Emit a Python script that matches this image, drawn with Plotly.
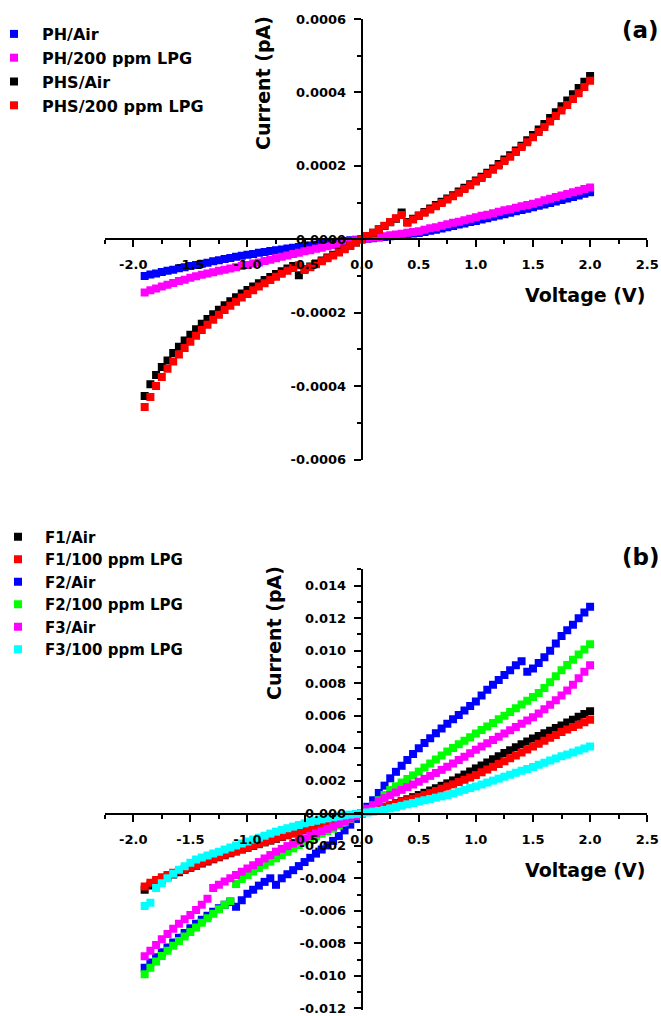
import plotly.graph_objects as go

# Voltage sweep (V)
VOLTAGE = [-1.90, -1.85, -1.80, -1.75, -1.70, -1.65, -1.60, -1.55, -1.50, -1.45,
           -1.40, -1.35, -1.30, -1.25, -1.20, -1.15, -1.10, -1.05, -1.00, -0.95,
           -0.90, -0.85, -0.80, -0.75, -0.70, -0.65, -0.60, -0.55, -0.50, -0.45,
           -0.40, -0.35, -0.30, -0.25, -0.20, -0.15, -0.10, -0.05, 0.00, 0.05,
           0.10, 0.15, 0.20, 0.25, 0.30, 0.35, 0.40, 0.45, 0.50, 0.55,
           0.60, 0.65, 0.70, 0.75, 0.80, 0.85, 0.90, 0.95, 1.00, 1.05,
           1.10, 1.15, 1.20, 1.25, 1.30, 1.35, 1.40, 1.45, 1.50, 1.55,
           1.60, 1.65, 1.70, 1.75, 1.80, 1.85, 1.90, 1.95, 2.00]

# ---- Panel (a): currents in units of 1e-4 pA ----
PH_AIR_E4 = [-1.00, -0.96, -0.93, -0.89, -0.86, -0.83, -0.79, -0.76, -0.73, -0.70,
             -0.67, -0.64, -0.60, -0.57, -0.54, -0.51, -0.48, -0.45, -0.42, -0.40,
             -0.37, -0.35, -0.32, -0.30, -0.28, -0.25, -0.23, -0.21, -0.19, -0.17,
             -0.15, -0.13, -0.11, -0.09, -0.07, -0.05, -0.03, -0.015, 0.0, 0.015,
             0.03, 0.045, 0.06, 0.08, 0.10, 0.12, 0.14, 0.155, 0.17, 0.20,
             0.23, 0.26, 0.29, 0.33, 0.36, 0.40, 0.43, 0.47, 0.50, 0.54,
             0.57, 0.61, 0.65, 0.68, 0.72, 0.76, 0.80, 0.83, 0.87, 0.91,
             0.95, 0.99, 1.03, 1.07, 1.11, 1.15, 1.19, 1.24, 1.28]
PH_LPG_E4 = [-1.45, -1.39, -1.34, -1.29, -1.24, -1.19, -1.14, -1.10, -1.05, -1.01,
             -0.97, -0.93, -0.90, -0.86, -0.83, -0.80, -0.76, -0.73, -0.70, -0.66,
             -0.63, -0.59, -0.56, -0.52, -0.48, -0.44, -0.40, -0.37, -0.33, -0.30,
             -0.26, -0.23, -0.19, -0.16, -0.13, -0.09, -0.06, -0.03, 0.0, 0.02,
             0.04, 0.06, 0.08, 0.11, 0.13, 0.15, 0.18, 0.20, 0.22, 0.26,
             0.30, 0.33, 0.37, 0.41, 0.45, 0.48, 0.52, 0.56, 0.60, 0.64,
             0.67, 0.71, 0.75, 0.79, 0.82, 0.86, 0.90, 0.93, 0.97, 1.01,
             1.06, 1.10, 1.15, 1.19, 1.23, 1.28, 1.32, 1.37, 1.41]
PHS_AIR_E4 = [-4.27, -3.95, -3.70, -3.48, -3.30, -3.10, -2.93, -2.76, -2.60, -2.45,
              -2.30, -2.17, -2.04, -1.92, -1.80, -1.69, -1.58, -1.48, -1.38, -1.29,
              -1.20, -1.11, -1.03, -0.95, -0.87, -0.80, -0.73, -0.98, -0.82, -0.74,
              -0.66, -0.58, -0.50, -0.42, -0.34, -0.26, -0.18, -0.09, 0.0, 0.09,
              0.18, 0.27, 0.36, 0.46, 0.56, 0.73, 0.47, 0.56, 0.65, 0.74,
              0.84, 0.93, 1.02, 1.11, 1.20, 1.30, 1.40, 1.50, 1.60, 1.70,
              1.81, 1.93, 2.05, 2.17, 2.29, 2.42, 2.55, 2.70, 2.84, 2.99,
              3.14, 3.30, 3.46, 3.62, 3.78, 3.95, 4.12, 4.29, 4.45]
PHS_LPG_E4 = [-4.57, -4.30, -4.00, -3.75, -3.53, -3.33, -3.14, -2.96, -2.79, -2.63,
              -2.47, -2.33, -2.19, -2.06, -1.93, -1.81, -1.70, -1.59, -1.49, -1.39,
              -1.29, -1.20, -1.11, -1.02, -0.94, -0.86, -0.78, -0.71, -0.84, -0.76,
              -0.68, -0.60, -0.52, -0.44, -0.36, -0.27, -0.18, -0.09, 0.0, 0.09,
              0.18, 0.27, 0.37, 0.47, 0.57, 0.66, 0.45, 0.54, 0.63, 0.72,
              0.81, 0.90, 0.99, 1.08, 1.17, 1.27, 1.37, 1.47, 1.57, 1.67,
              1.78, 1.89, 2.01, 2.13, 2.25, 2.38, 2.51, 2.64, 2.78, 2.92,
              3.06, 3.21, 3.36, 3.51, 3.66, 3.82, 3.98, 4.15, 4.32]

# ---- Panel (b): currents in units of 1e-3 pA ----
F1_AIR_E3 = [-4.70, -4.45, -4.25, -4.07, -3.91, -3.76, -3.62, -3.48, -3.35, -3.22,
             -3.09, -2.96, -2.83, -2.71, -2.58, -2.46, -2.35, -2.23, -2.12, -2.01,
             -1.90, -1.79, -1.68, -1.57, -1.46, -1.35, -1.24, -1.13, -1.02, -0.92,
             -0.82, -0.72, -0.62, -0.52, -0.42, -0.31, -0.21, -0.10, 0.0, 0.10,
             0.20, 0.30, 0.40, 0.50, 0.62, 0.74, 0.86, 0.99, 1.12, 1.26,
             1.40, 1.54, 1.69, 1.84, 2.02, 2.20, 2.38, 2.57, 2.76, 2.94,
             3.13, 3.32, 3.51, 3.70, 3.88, 4.06, 4.24, 4.42, 4.60, 4.76,
             4.92, 5.08, 5.24, 5.40, 5.58, 5.76, 5.94, 6.11, 6.28]
F1_LPG_E3 = [-4.50, -4.28, -4.10, -3.94, -3.80, -3.66, -3.54, -3.42, -3.30, -3.18,
             -3.05, -2.92, -2.79, -2.67, -2.55, -2.43, -2.32, -2.21, -2.10, -1.99,
             -1.88, -1.77, -1.66, -1.55, -1.44, -1.33, -1.22, -1.11, -1.00, -0.90,
             -0.80, -0.70, -0.60, -0.50, -0.40, -0.30, -0.20, -0.10, 0.0, 0.10,
             0.20, 0.30, 0.40, 0.50, 0.60, 0.70, 0.80, 0.90, 1.00, 1.12,
             1.24, 1.37, 1.51, 1.65, 1.78, 1.92, 2.06, 2.20, 2.35, 2.52,
             2.69, 2.86, 3.03, 3.20, 3.38, 3.56, 3.74, 3.92, 4.10, 4.28,
             4.46, 4.64, 4.82, 5.00, 5.15, 5.30, 5.45, 5.60, 5.75]
F2_AIR_E3 = [-9.50, -9.18, -8.85, -8.55, -8.25, -7.95, -7.65, -7.36, -7.07, -6.80,
             -6.55, -6.30, -6.06, -5.84, -5.62, -5.45, -5.75, -5.35, -4.95, -4.70,
             -4.45, -4.22, -4.00, -4.40, -4.00, -3.75, -3.50, -3.25, -3.00, -2.74,
             -2.48, -2.23, -1.98, -1.70, -1.40, -1.05, -0.70, -0.35, 0.0, 0.40,
             0.80, 1.25, 1.70, 2.15, 2.55, 2.92, 3.28, 3.64, 4.00, 4.32,
             4.62, 4.92, 5.22, 5.50, 5.78, 6.05, 6.32, 6.60, 6.88, 7.25,
             7.60, 7.90, 8.20, 8.50, 8.80, 9.10, 9.35, 8.70, 8.90, 9.25,
             9.60, 10.00, 10.45, 10.90, 11.25, 11.60, 12.00, 12.35, 12.70]
F2_LPG_E3 = [-9.90, -9.50, -9.12, -8.78, -8.45, -8.15, -7.86, -7.58, -7.30, -7.02,
             -6.74, -6.46, -6.18, -5.90, -5.62, -5.40, -4.35, -4.05, -3.80, -3.58,
             -3.37, -3.17, -2.97, -2.77, -2.57, -2.37, -2.16, -1.95, -1.74, -1.58,
             -1.42, -1.26, -1.10, -0.95, -0.75, -0.55, -0.36, -0.18, 0.0, 0.25,
             0.45, 0.80, 1.12, 1.43, 1.66, 1.89, 2.11, 2.33, 2.56, 2.81,
             3.06, 3.31, 3.56, 3.80, 4.02, 4.24, 4.46, 4.68, 4.90, 5.12,
             5.34, 5.56, 5.78, 6.00, 6.23, 6.46, 6.69, 6.92, 7.15, 7.40,
             7.70, 8.06, 8.43, 8.80, 9.12, 9.44, 9.76, 10.08, 10.40]
F3_AIR_E3 = [-8.80, -8.45, -8.10, -7.75, -7.42, -7.10, -6.80, -6.52, -6.25, -5.95,
             -5.62, -5.25, -4.60, -4.40, -4.20, -4.00, -3.80, -3.60, -3.40, -3.20,
             -3.00, -2.78, -2.57, -2.36, -2.19, -2.02, -1.86, -1.70, -1.54, -1.39,
             -1.24, -1.10, -0.96, -0.82, -0.66, -0.50, -0.33, -0.17, 0.0, 0.28,
             0.50, 0.72, 0.93, 1.12, 1.28, 1.44, 1.61, 1.77, 1.94, 2.12,
             2.30, 2.48, 2.67, 2.86, 3.06, 3.27, 3.48, 3.69, 3.90, 4.10,
             4.30, 4.50, 4.70, 4.90, 5.10, 5.30, 5.50, 5.70, 5.90, 6.14,
             6.40, 6.67, 6.95, 7.25, 7.55, 7.90, 8.30, 8.70, 9.10]
F3_LPG_E3 = [-5.70, -5.50, -4.60, -4.30, -4.00, -3.72, -3.48, -3.26, -3.05, -2.85,
             -2.72, -2.60, -2.48, -2.36, -2.23, -2.10, -1.98, -1.86, -1.74, -1.62,
             -1.50, -1.38, -1.25, -1.13, -1.02, -0.92, -0.82, -0.72, -0.62, -0.54,
             -0.46, -0.38, -0.31, -0.25, -0.19, -0.13, -0.08, -0.04, 0.0, 0.05,
             0.10, 0.15, 0.21, 0.30, 0.38, 0.46, 0.55, 0.63, 0.72, 0.80,
             0.88, 0.96, 1.04, 1.12, 1.22, 1.33, 1.44, 1.55, 1.65, 1.77,
             1.89, 2.01, 2.13, 2.25, 2.37, 2.49, 2.61, 2.73, 2.85, 2.98,
             3.11, 3.24, 3.37, 3.50, 3.62, 3.74, 3.86, 3.98, 4.10]

SERIES_A = [("PH/Air", PH_AIR_E4, "#0000FF"),
            ("PH/200 ppm LPG", PH_LPG_E4, "#FF00FF"),
            ("PHS/Air", PHS_AIR_E4, "#000000"),
            ("PHS/200 ppm LPG", PHS_LPG_E4, "#FF0000")]
SERIES_B = [("F1/Air", F1_AIR_E3, "#000000"),
            ("F1/100 ppm LPG", F1_LPG_E3, "#FF0000"),
            ("F2/Air", F2_AIR_E3, "#0000FF"),
            ("F2/100 ppm LPG", F2_LPG_E3, "#00FF00"),
            ("F3/Air", F3_AIR_E3, "#FF00FF"),
            ("F3/100 ppm LPG", F3_LPG_E3, "#00FFFF")]

X_TICKS = [-2.0, -1.5, -1.0, -0.5, 0.0, 0.5, 1.0, 1.5, 2.0, 2.5]
X_TICKTEXT = ["-2.0", "-1.5", "-1.0", "-0.5", "0.0", "0.5", "1.0", "1.5", "2.0", "2.5"]
YA_TICKS = [-0.0006, -0.0004, -0.0002, 0.0, 0.0002, 0.0004, 0.0006]
YA_TICKTEXT = ["-0.0006", "-0.0004", "-0.0002", "0.0000", "0.0002", "0.0004", "0.0006"]
YB_TICKS = [-0.012, -0.010, -0.008, -0.006, -0.004, -0.002, 0.0,
            0.002, 0.004, 0.006, 0.008, 0.010, 0.012, 0.014]
YB_TICKTEXT = ["-0.012", "-0.010", "-0.008", "-0.006", "-0.004", "-0.002", "0.000",
               "0.002", "0.004", "0.006", "0.008", "0.010", "0.012", "0.014"]

W, H = 661, 1016
FONT = "DejaVu Sans"

fig = go.Figure()
for name, vals, col in SERIES_A:
    fig.add_trace(go.Scatter(x=VOLTAGE, y=[v * 1e-4 for v in vals], mode="markers", name=name,
                             marker=dict(symbol="square", size=8, color=col, line=dict(width=0)),
                             xaxis="x", yaxis="y", legend="legend", legendgroup=name))
for name, vals, col in SERIES_B:
    fig.add_trace(go.Scatter(x=VOLTAGE, y=[v * 1e-3 for v in vals], mode="markers", name=name,
                             marker=dict(symbol="square", size=8, color=col, line=dict(width=0)),
                             xaxis="x2", yaxis="y2", legend="legend2", legendgroup=name))

xdom = [104.7 / W, 647.2 / W]
ypos = 361.7 / W
tickfont = dict(family=FONT, size=13, color="black", weight="bold")

def xaxis_cfg(pos):
    return dict(domain=xdom, range=[-2.25, 2.5], anchor="free", position=pos,
                showline=True, linecolor="black", linewidth=2,
                ticks="outside", ticklen=7, tickwidth=2, tickcolor="black",
                tickvals=X_TICKS, ticktext=X_TICKTEXT, tickfont=tickfont,
                ticklabelstandoff=6, ticklabeloverflow="allow",
                minor=dict(ticks="outside", ticklen=4, tickwidth=2, tickcolor="black", dtick=0.25,
                           tick0=0, showgrid=False),
                showgrid=False, zeroline=False)

def yaxis_cfg(dom, rng, tv, tt, mdt):
    return dict(domain=dom, range=rng, anchor="free", position=ypos,
                showline=True, linecolor="black", linewidth=2,
                ticks="outside", ticklen=7, tickwidth=2, tickcolor="black",
                tickvals=tv, ticktext=tt, tickfont=tickfont, ticklabelstandoff=5,
                ticklabeloverflow="allow",
                minor=dict(ticks="outside", ticklen=4, tickwidth=2, tickcolor="black", dtick=mdt,
                           tick0=0, showgrid=False),
                showgrid=False, zeroline=False)

fig.update_layout(
    width=W, height=H, margin=dict(l=0, r=0, t=0, b=0, autoexpand=False),
    paper_bgcolor="white", plot_bgcolor="white",
    font=dict(family=FONT, color="black"),
    xaxis=xaxis_cfg(1 - 239.3 / H),
    yaxis=yaxis_cfg([1 - 459.5 / H, 1 - 19 / H], [-0.0006, 0.0006], YA_TICKS, YA_TICKTEXT, 0.0001),
    xaxis2=xaxis_cfg(1 - 814.2 / H),
    yaxis2=yaxis_cfg([1 - 1010 / H, 1 - 569.4 / H], [-0.0121, 0.015], YB_TICKS, YB_TICKTEXT, 0.001),
    legend=dict(x=-14 / W, y=1 - 17 / H, xanchor="left", yanchor="top", bgcolor="rgba(0,0,0,0)",
                font=dict(family=FONT, size=16, color="black", weight="bold"),
                itemwidth=46, tracegroupgap=0, borderwidth=0),
    legend2=dict(x=-9 / W, y=1 - 520.5 / H, xanchor="left", yanchor="top", bgcolor="rgba(0,0,0,0)",
                 font=dict(family=FONT, size=15, color="black", weight="bold"),
                 itemwidth=44, tracegroupgap=0, borderwidth=0),
    showlegend=True,
)

def ann(text, x, y, size, angle=0):
    fig.add_annotation(text=text, x=x / W, y=1 - y / H, xref="paper", yref="paper",
                       xanchor="center", yanchor="middle", showarrow=False, textangle=angle,
                       font=dict(family=FONT, size=size, color="black", weight="bold"))

ann("Voltage (V)", 585, 295, 19)
ann("Voltage (V)", 585, 870, 19)
ann("Current (pA)", 263, 83, 19, -90)
ann("Current (pA)", 274, 633, 19, -90)
ann("(a)", 640, 30, 23)
ann("(b)", 641, 557, 23)

fig.write_html("out.html")
